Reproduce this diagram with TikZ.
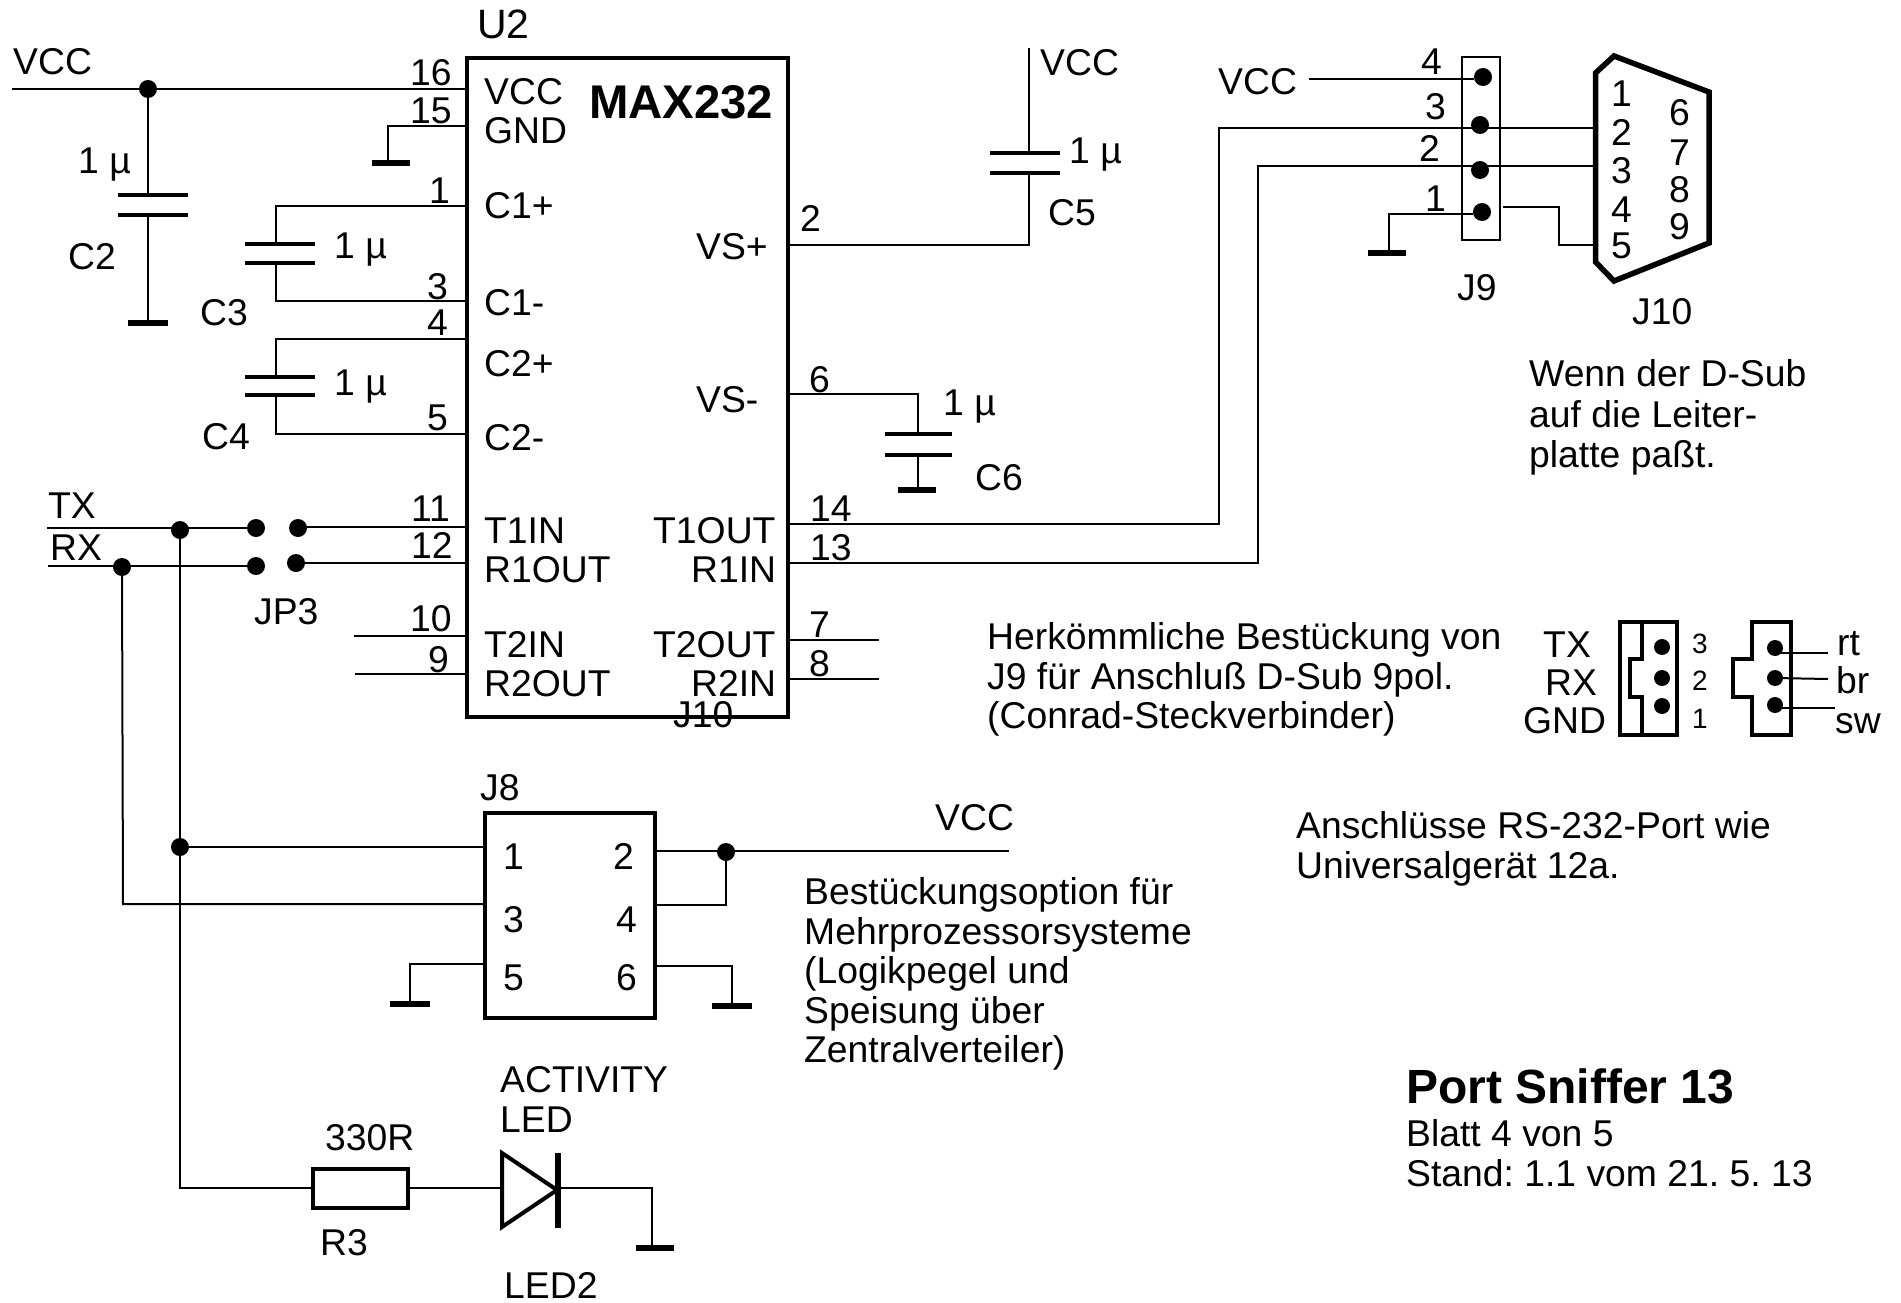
\documentclass[tikz,border=0pt]{standalone}
\usepackage{fontspec}
\setmainfont{Liberation Sans}
\usetikzlibrary{calc}
\newcommand{\lbl}[4]{\node[txt] (#1) at (#2,#3) {#4};}
\newcommand{\lblb}[4]{\node[txtbold] (#1) at (#2,#3) {#4};}
\newcommand{\lbls}[4]{\node[txtsmall] (#1) at (#2,#3) {#4};}
\newcommand{\pt}[3]{\coordinate (#1) at (#2,#3);}
\newcommand{\jdot}[3]{\node[dotnode] (#1) at (#2,#3) {};}
\tikzset{
  txt/.style={font=\frenchspacing\fontsize{37.3}{37.3}\selectfont,inner sep=0pt,anchor=base west,text=black},
  txtbold/.style={font=\frenchspacing\fontsize{48}{48}\selectfont\bfseries,inner sep=0pt,anchor=base west,text=black},
  txtsmall/.style={font=\fontsize{28}{28}\selectfont,inner sep=0pt,anchor=base west,text=black},
  wire/.style={draw=black,line width=2pt,line cap=butt,line join=miter},
  plate/.style={draw=black,line width=4.5pt},
  gndbar/.style={draw=black,line width=6pt},
  thickbox/.style={draw=black,line width=4pt,line join=miter},
  thinbox/.style={draw=black,line width=2pt},
  dsub/.style={draw=black,line width=5.5pt,line join=miter},
  dotnode/.style={circle,fill=black,draw=none,inner sep=0pt,minimum size=18pt},
}
\begin{document}
\begin{tikzpicture}[x=1pt,y=-1pt]
\useasboundingbox (0,0) rectangle (1901,1303);
\fill[white] (0,0) rectangle (1901,1303);

% ---- MAX232
\node[thickbox,inner sep=0pt,minimum width=321pt,minimum height=659pt] (U2box) at (627.5,387.5) {};
\node[txt,font=\fontsize{41}{41}\selectfont] (U2) at (477,39) {U2};
\node[txtbold,font=\fontsize{47.3}{47.3}\selectfont\bfseries] (MAX) at (589,119) {MAX232};
\lbl{iVCC}{484}{105}{VCC}
\lbl{iGND}{484}{143}{GND}
\lbl{iC1p}{484}{218}{C1+}
\lbl{iC1m}{484}{315}{C1-}
\lbl{iC2p}{484}{376}{C2+}
\lbl{iC2m}{484}{450}{C2-}
\lbl{iT1I}{484}{543}{T1IN}
\lbl{iR1O}{484}{582}{R1OUT}
\lbl{iT2I}{484}{657}{T2IN}
\lbl{iR2O}{484}{696}{R2OUT}
\lbl{iVSp}{696}{259}{VS+}
\lbl{iVSm}{696}{412}{VS-}
\lbl{iT1O}{653}{543}{T1OUT}
\lbl{iR1I}{691}{582}{R1IN}
\lbl{iT2O}{653}{657}{T2OUT}
\lbl{iR2I}{691}{696}{R2IN}
\lbl{Jten2}{673}{727}{J10}
% pin numbers
\lbl{n16}{410}{86}{16}
\lbl{n15}{410}{124}{15}
\lbl{n1}{429}{204}{1}
\lbl{n3}{427}{299}{3}
\lbl{n4}{427}{335}{4}
\lbl{n5}{427}{430}{5}
\lbl{n11}{411}{521}{11}
\lbl{n12}{411}{558}{12}
\lbl{n10}{410}{631}{10}
\lbl{n9}{428}{672}{9}
\lbl{n2r}{800}{231}{2}
\lbl{n6r}{809}{392}{6}
\lbl{n14}{810}{521}{14}
\lbl{n13}{810}{560}{13}
\lbl{n7}{809}{637}{7}
\lbl{n8}{809}{676}{8}

% ---- VCC / C2
\lbl{vccA}{13}{75}{VCC}
\pt{vccAl}{12}{89}
\jdot{jA}{148}{89}
\pt{p16}{467}{89}
\draw[wire] (vccAl) -- (jA) -- (p16);
\pt{c2a}{148}{195}\pt{c2b}{148}{215}\pt{c2g}{148}{323}
\draw[wire] (jA) -- (c2a) (c2b) -- (c2g);
\draw[plate] (118,195) -- (188,195) (118,215) -- (188,215);
\pt{g2l}{128}{323}\pt{g2r}{168}{323}
\draw[gndbar] (g2l) -- (g2r);
\lbl{c2v}{78}{173}{1 µ}
\lbl{c2n}{68}{269}{C2}

% ---- pin 15
\pt{p15}{467}{126}\pt{p15c}{388}{126}\pt{p15g}{388}{163}
\draw[wire] (p15) -- (p15c) -- (p15g);
\draw[gndbar] (372,163) -- (410,163);

% ---- C3
\pt{p1}{467}{206}\pt{p3}{467}{301}
\draw[wire] (p1) -- (276,206) -- (276,244) (276,263) -- (276,301) -- (p3);
\draw[plate] (245,244) -- (315,244) (245,263) -- (315,263);
\lbl{c3v}{334}{258}{1 µ}
\lbl{c3n}{200}{325}{C3}

% ---- C4
\pt{p4}{467}{339}\pt{p5}{467}{434}
\draw[wire] (p4) -- (276,339) -- (276,377) (276,395) -- (276,434) -- (p5);
\draw[plate] (245,377) -- (315,377) (245,395) -- (315,395);
\lbl{c4v}{334}{395}{1 µ}
\lbl{c4n}{202}{449}{C4}

% ---- C5
\lbl{vccC}{1040}{76}{VCC}
\pt{p2r}{788}{245}
\draw[wire] (p2r) -- (1029,245) -- (1029,173) (1029,153) -- (1029,48);
\draw[plate] (990,153) -- (1060,153) (990,173) -- (1060,173);
\lbl{c5v}{1069}{164}{1 µ}
\lbl{c5n}{1048}{225}{C5}

% ---- C6
\pt{p6r}{788}{394}
\draw[wire] (p6r) -- (918,394) -- (918,434) (918,455) -- (918,490);
\draw[plate] (885,434) -- (952,434) (885,455) -- (952,455);
\draw[gndbar] (898,490) -- (936,490);
\lbl{c6v}{943}{415}{1 µ}
\lbl{c6n}{975}{490}{C6}

% ---- J9
\node[thinbox,inner sep=0pt,minimum width=38pt,minimum height=183pt] (J9box) at (1481,148.5) {};
\jdot{d4}{1483}{77}
\jdot{d3}{1480}{125}
\jdot{d2}{1480}{170}
\jdot{d1}{1482}{212}
\lbl{vccB}{1218}{95}{VCC}
\pt{vccBr}{1309}{79}
\draw[wire] (vccBr) -- (d4.west |- vccBr);
\lbl{a4}{1421}{75}{4}
\lbl{a3}{1425}{120}{3}
\lbl{a2}{1419}{161}{2}
\lbl{a1}{1425}{211}{1}
\lbl{J9}{1457}{300}{J9}
\pt{gnd9}{1389}{250}
\draw[wire] (d1.west |- 0,214) -- (1389,214) -- (gnd9);
\draw[gndbar] (1368,253) -- (1406,253);

% ---- D-Sub
\draw[dsub] (1595.5,73) -- (1614,56) -- (1709,92) -- (1709,243) -- (1614,281) -- (1595.5,262) -- cycle;
\lbl{s1}{1611}{107}{1}
\lbl{s2}{1611}{146}{2}
\lbl{s3}{1611}{183}{3}
\lbl{s4}{1611}{222}{4}
\lbl{s5}{1611}{258}{5}
\lbl{s6}{1669}{126}{6}
\lbl{s7}{1669}{165}{7}
\lbl{s8}{1669}{202}{8}
\lbl{s9}{1669}{239}{9}
\lbl{J10}{1632}{324}{J10}
\draw[wire] (1503,207) -- (1559,207) -- (1559,245) -- (1594,245);
\pt{p14}{788}{524}\pt{p13}{788}{563}
\draw[wire] (p14) -- (1219,524) -- (1219,128) -- (1594,128);
\draw[wire] (p13) -- (1258,563) -- (1258,166) -- (1594,166);
\lbl{w1}{1529}{386}{Wenn der D-Sub}
\lbl{w2}{1529}{427}{auf die Leiter-}
\lbl{w3}{1529}{467}{platte paßt.}

% ---- JP3, TX, RX
\lbl{TX}{48}{518}{TX}
\lbl{RX}{50}{560}{RX}
\lbl{JP3}{254}{624}{JP3}
\jdot{jpa}{256}{528}
\jdot{jpb}{298}{528}
\jdot{jpc}{256}{566}
\jdot{jpd}{296}{563}
\jdot{jtx}{180}{530}
\jdot{jrx}{122}{567}
\pt{txl}{47}{528}\pt{rxl}{48}{566}
\draw[wire] (txl) -- (jpa);
\draw[wire] (rxl) -- (jpc);
\draw[wire] (298,527) -- (467,527);
\draw[wire] (296,563) -- (467,563);
\draw[wire] (354,636) -- (467,636);
\draw[wire] (355,674) -- (467,674);
\draw[wire] (788,640) -- (879,640);
\draw[wire] (788,679) -- (879,679);

% ---- J8
\node[thickbox,inner sep=0pt,minimum width=170pt,minimum height=205pt] (J8box) at (570,915.5) {};
\lbl{J8}{480}{800}{J8}
\lbl{j1}{503}{869}{1}
\lbl{j2}{613}{869}{2}
\lbl{j3}{503}{932}{3}
\lbl{j4}{616}{932}{4}
\lbl{j5}{503}{990}{5}
\lbl{j6}{616}{990}{6}
\jdot{jb}{180}{847}
\jdot{jv}{726}{852}
\node[thickbox,inner sep=0pt,minimum width=95pt,minimum height=39pt] (R3box) at (360.5,1188) {};
\draw[wire] (jtx) -- (180,1188) -- (R3box.west);
\draw[wire] (jb) -- (485,847);
\draw[wire] (jrx) -- (123,904) -- (485,904);
\draw[wire] (655,851) -- (1009,851);
\draw[wire] (655,905) -- (726,905) -- (jv);
\lbl{vccD}{935}{830}{VCC}
\draw[wire] (485,964) -- (410,964) -- (410,1001);
\draw[gndbar] (390,1004) -- (430,1004);
\draw[wire] (655,966) -- (732,966) -- (732,1005);
\draw[gndbar] (712,1006) -- (752,1006);
\lbl{b1}{804}{904}{Bestückungsoption für}
\lbl{b2}{804}{944}{Mehrprozessorsysteme}
\lbl{b3}{804}{983}{(Logikpegel und}
\lbl{b4}{804}{1023}{Speisung über}
\lbl{b5}{804}{1062}{Zentralverteiler)}

% ---- R3 / LED
\lbl{r3v}{325}{1150}{330R}
\lbl{r3n}{320}{1255}{R3}
\lbl{act}{500}{1092}{ACTIVITY}
\lbl{led}{500}{1132}{LED}
\lbl{led2}{504}{1298}{LED2}
\draw[wire] (R3box.east) -- (502,1188);
\draw[draw=black,line width=4pt,line join=miter] (502,1153) -- (502,1227) -- (557,1190) -- cycle;
\draw[gndbar] (558,1153) -- (558,1228);
\draw[wire] (558,1188) -- (652,1188) -- (652,1245);
\draw[gndbar] (636,1248) -- (674,1248);

% ---- notes
\lbl{h1}{987}{649}{Herkömmliche Bestückung von}
\lbl{h2}{987}{689}{J9 für Anschluß D-Sub 9pol.}
\lbl{h3}{987}{728}{(Conrad-Steckverbinder)}
\lbl{an1}{1296}{838}{Anschlüsse RS-232-Port wie}
\lbl{an2}{1296}{878}{Universalgerät 12a.}
\lblb{ps}{1406}{1103}{Port Sniffer 13}
\lbl{bl}{1406}{1146}{Blatt 4 von 5}
\lbl{st}{1406}{1186}{Stand: 1.1 vom 21. 5. 13}

% ---- small connectors
\lbl{kTX}{1543}{657}{TX}
\lbl{kRX}{1545}{695}{RX}
\lbl{kG}{1523}{733}{GND}
\lbls{k3}{1692}{653}{3}
\lbls{k2}{1692}{690}{2}
\lbls{k1}{1692}{728}{1}
\draw[thickbox] (1620,622) rectangle (1677,735);
\draw[thickbox] (1642,622) -- (1642,659) -- (1630,659) -- (1630,697) -- (1642,697) -- (1642,735);
\node[dotnode,minimum size=16pt] (ka) at (1662,647) {};
\node[dotnode,minimum size=16pt] (kb) at (1662,678) {};
\node[dotnode,minimum size=16pt] (kc) at (1662,706) {};
\draw[thickbox] (1752,622) -- (1791,622) -- (1791,735) -- (1752,735) -- (1752,697) -- (1733,697) -- (1733,659) -- (1752,659) -- cycle;
\node[dotnode,minimum size=16pt] (kd) at (1775,648) {};
\node[dotnode,minimum size=16pt] (ke) at (1775,678) {};
\node[dotnode,minimum size=16pt] (kf) at (1775,705) {};
\draw[wire] (kd) -- (1775,653) -- (1828,653);
\draw[wire] (ke) -- (1828,679);
\draw[wire] (kf) -- (1775,708) -- (1835,708);
\lbl{rt}{1837}{655}{rt}
\lbl{br}{1836}{693}{br}
\lbl{sw}{1835}{733}{sw}
\end{tikzpicture}
\end{document}
